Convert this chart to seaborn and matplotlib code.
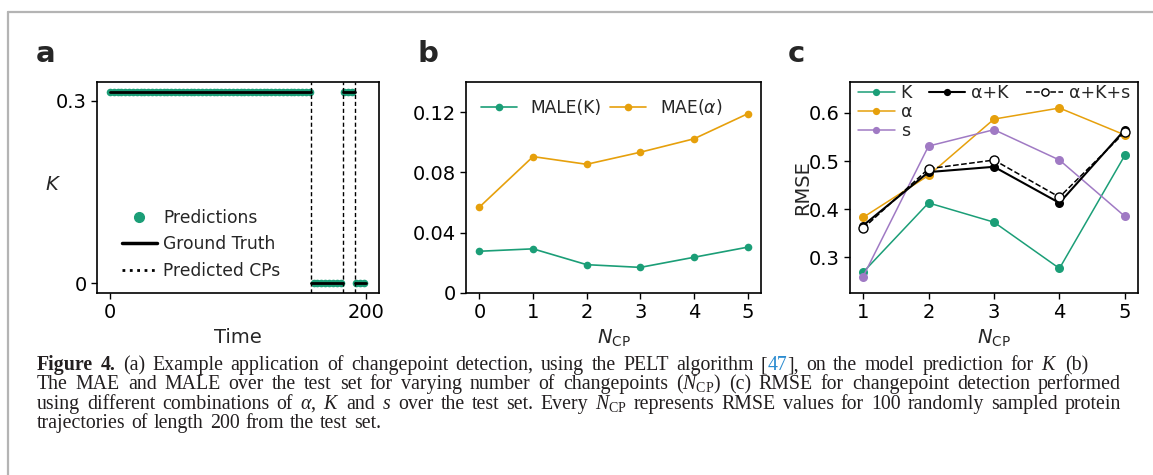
import numpy as np
import pandas as pd
import matplotlib
matplotlib.use("Agg")
import matplotlib.pyplot as plt
from matplotlib.lines import Line2D
import seaborn as sns

# --- panel a: changepoint example ---
cp_times = [157, 182, 191]
seg_values = [0.315, 0.0, 0.315, 0.0]
t_start, t_end = 0, 200
pred_step = 3

# --- panel b: MAE / MALE vs number of changepoints ---
n_cp_b = [0, 1, 2, 3, 4, 5]
male_k = [0.0277, 0.0293, 0.0188, 0.0170, 0.0237, 0.0304]
mae_alpha = [0.0570, 0.0905, 0.0854, 0.0934, 0.1023, 0.1189]

# --- panel c: RMSE for combinations ---
n_cp_c = [1, 2, 3, 4, 5]
rmse_k = [0.269, 0.413, 0.373, 0.277, 0.512]
rmse_alpha = [0.383, 0.470, 0.587, 0.610, 0.554]
rmse_s = [0.260, 0.531, 0.565, 0.502, 0.385]
rmse_alpha_k = [0.366, 0.477, 0.488, 0.413, 0.565]
rmse_alpha_k_s = [0.360, 0.484, 0.502, 0.425, 0.560]

GREEN = "#1b9e77"
ORANGE = "#e6a00c"
PURPLE = "#a07ac4"
CAP_TEXT = "#231f20"
CAP_LINK = "#2a8bd0"

sns.set_style("ticks")
plt.rcParams.update({
    "font.family": ["DejaVu Sans"],
    "axes.linewidth": 1.2,
    "axes.edgecolor": "black",
    "xtick.major.size": 4,
    "ytick.major.size": 4,
    "xtick.major.width": 1,
    "ytick.major.width": 1,
    "xtick.labelsize": 14,
    "ytick.labelsize": 14,
    "axes.labelsize": 14,
    "xtick.color": "black",
    "ytick.color": "black",
    "mathtext.fontset": "dejavusans",
    "mathtext.rm": "Liberation Serif",
    "mathtext.it": "Liberation Serif:italic",
    "mathtext.bf": "Liberation Serif:bold",
})

W, H = 1153, 475
fig = plt.figure(figsize=(W / 100, H / 100), dpi=100)


def px_axes(x0, y0, x1, y1):
    return fig.add_axes([x0 / W, 1 - y1 / H, (x1 - x0) / W, (y1 - y0) / H])


ax_a = px_axes(97, 82, 379, 293)
ax_b = px_axes(466, 82, 761, 293)
ax_c = px_axes(850, 82, 1138, 293)

# ---------- panel a ----------
bounds = [t_start] + cp_times + [t_end]
gt_rows = []
for i, v in enumerate(seg_values):
    gt_rows.append({"t": bounds[i], "K": v, "seg": i})
    gt_rows.append({"t": bounds[i + 1], "K": v, "seg": i})
df_gt = pd.DataFrame(gt_rows)

t_pred = np.arange(t_start, t_end + 1, pred_step)
seg_idx = np.searchsorted(cp_times, t_pred, side="right")
df_pred = pd.DataFrame({"t": t_pred, "K": np.array(seg_values)[seg_idx]})

sns.scatterplot(data=df_pred, x="t", y="K", ax=ax_a, color=GREEN, s=30,
                linewidth=0, zorder=2)
sns.lineplot(data=df_gt, x="t", y="K", units="seg", estimator=None, ax=ax_a,
             color="black", linewidth=2.0, zorder=3)
for cp in cp_times:
    ax_a.axvline(cp, color="black", linestyle=(0, (3, 2)), linewidth=1, zorder=4)

ax_a.set_xlim(-10, 210)
ax_a.set_ylim(-0.0158, 0.3308)
ax_a.set_xticks([0, 200])
ax_a.set_yticks([0, 0.3])
ax_a.set_yticklabels(["0", "0.3"])
ax_a.set_xlabel("Time")
ax_a.set_ylabel("$K$", rotation=0, fontsize=14)
ax_a.yaxis.set_label_coords(-0.156, 0.47)
handles_a = [
    Line2D([], [], marker="o", linestyle="none", color=GREEN, markersize=7),
    Line2D([], [], color="black", linewidth=2.5),
    Line2D([], [], color="black", linestyle=":", linewidth=2),
]
ax_a.legend(handles_a, ["Predictions", "Ground Truth", "Predicted CPs"],
            loc="upper left", bbox_to_anchor=(0.09, 0.40), frameon=False,
            fontsize=12.3, borderpad=0, borderaxespad=0, handlelength=2.0,
            handletextpad=0.4, labelspacing=0.5)

# ---------- panel b ----------
sns.lineplot(x=n_cp_b, y=male_k, ax=ax_b, color=GREEN, marker="o",
             markersize=5.5, markeredgewidth=0, linewidth=1.2, label="MALE(K)")
sns.lineplot(x=n_cp_b, y=mae_alpha, ax=ax_b, color=ORANGE, marker="o",
             markersize=5.5, markeredgewidth=0, linewidth=1.2,
             label=r"MAE($\alpha$)")
ax_b.set_xlim(-0.25, 5.25)
ax_b.set_ylim(0, 0.14)
ax_b.set_xticks(n_cp_b)
ax_b.set_yticks([0, 0.04, 0.08, 0.12])
ax_b.set_yticklabels(["0", "0.04", "0.08", "0.12"])
ax_b.set_xlabel(r"$N_{\rm CP}$")
ax_b.set_ylabel("")
ax_b.legend(loc="upper left", bbox_to_anchor=(0.05, 0.93), ncol=2,
            frameon=False, fontsize=12.3, borderpad=0, borderaxespad=0,
            handlelength=2.1, handletextpad=0.8, columnspacing=0.5)

# ---------- panel c ----------
line_kw = dict(marker="o", markersize=6.5, markeredgewidth=0, linewidth=1.1)
sns.lineplot(x=n_cp_c, y=rmse_k, ax=ax_c, color=GREEN, label="K", **line_kw)
sns.lineplot(x=n_cp_c, y=rmse_alpha, ax=ax_c, color=ORANGE, label="α", **line_kw)
sns.lineplot(x=n_cp_c, y=rmse_s, ax=ax_c, color=PURPLE, label="s", **line_kw)
sns.lineplot(x=n_cp_c, y=rmse_alpha_k, ax=ax_c, color="black", label="α+K",
             marker="o", markersize=6.5, markeredgewidth=0, linewidth=1.5)
sns.lineplot(x=n_cp_c, y=rmse_alpha_k_s, ax=ax_c, color="black",
             label="α+K+s", marker="o", markersize=6.5,
             markerfacecolor="white", markeredgecolor="black",
             markeredgewidth=1, linewidth=1.1, linestyle="--")
ax_c.set_xlim(0.8, 5.2)
ax_c.set_ylim(0.226, 0.664)
ax_c.set_xticks(n_cp_c)
ax_c.set_yticks([0.3, 0.4, 0.5, 0.6])
ax_c.set_xlabel(r"$N_{\rm CP}$")
ax_c.set_ylabel("RMSE")
ax_c.yaxis.set_label_coords(-0.132, 0.5)

h, l = ax_c.get_legend_handles_labels()
leg1 = ax_c.legend(h[:3], l[:3], loc="upper left", bbox_to_anchor=(0.028, 0.99),
                   frameon=False, fontsize=12.5, borderpad=0, borderaxespad=0,
                   handlelength=2.1, handletextpad=0.35, labelspacing=0.05,
                   markerscale=0.8)
ax_c.add_artist(leg1)
ax_c.legend(h[3:], l[3:], loc="upper left", bbox_to_anchor=(0.274, 0.99),
            ncol=2, frameon=False, fontsize=12.5, borderpad=0, borderaxespad=0,
            handlelength=2.1, handletextpad=0.35, columnspacing=1.0,
            markerscale=0.8)

for ax in (ax_a, ax_b, ax_c):
    for sp in ax.spines.values():
        sp.set_visible(True)
        sp.set_color("black")

# panel letters
for x, letter in [(36, "a"), (417, "b"), (788, "c")]:
    fig.text(x / W, 1 - 62 / H, letter, fontsize=21, fontweight="bold",
             va="baseline", ha="left")

# page frame
frame_col = "#b4b4b4"
fig.add_artist(Line2D([8 / W, 1], [1 - 12 / H, 1 - 12 / H],
                      transform=fig.transFigure, color=frame_col, lw=1.6))
fig.add_artist(Line2D([8 / W, 8 / W], [0, 1 - 12 / H],
                      transform=fig.transFigure, color=frame_col, lw=1.6))

# ---------- caption (justified like the journal page) ----------
cap_kw = dict(fontsize=14.3, family="Liberation Serif", va="baseline",
              ha="left", math_fontfamily="custom")
renderer = fig.canvas.get_renderer()
CAP_LEFT = 37


def caption_line(y_px, text, right_px=None, links=(), bold=()):
    # each word becomes its own text so the line can be stretched to the margin
    words = text.split(" ")
    placed = []
    for w in words:
        pieces = []
        off = 0.0
        parts = [w]
        for link in links:
            if link in w and w != link:
                a, b = w.split(link, 1)
                parts = [p for p in (a, link, b) if p]
        for p in parts:
            color = CAP_LINK if p in links else CAP_TEXT
            weight = "bold" if w in bold else "normal"
            t = fig.text(0, 1 - y_px / H, p, color=color, fontweight=weight,
                         **cap_kw)
            pieces.append((t, off))
            off += t.get_window_extent(renderer).width
        placed.append((pieces, off))
    total = sum(wd for _, wd in placed)
    if right_px is None:
        gap = 0.3 * cap_kw["fontsize"] * 100 / 72
    else:
        gap = (right_px - CAP_LEFT - total) / (len(placed) - 1)
    x = CAP_LEFT
    for pieces, wd in placed:
        for t, off in pieces:
            t.set_x((x + off) / W)
        x += wd + gap


caption_line(370, r"Figure 4. (a) Example application of changepoint detection, "
                  r"using the PELT algorithm [47], on the model prediction for $K$ (b)",
             right_px=1088, links=("47",), bold=("Figure", "4."))
caption_line(389.3, r"The MAE and MALE over the test set for varying number of "
                    r"changepoints ($N_\mathrm{CP}$) (c) RMSE for changepoint detection performed",
             right_px=1121)
caption_line(408.6, r"using different combinations of $\alpha$, $K$ and $s$ over the "
                    r"test set. Every $N_\mathrm{CP}$ represents RMSE values for 100 "
                    r"randomly sampled protein",
             right_px=1121)
caption_line(427.9, "trajectories of length 200 from the test set.")

fig.savefig("out.png", dpi=100)
